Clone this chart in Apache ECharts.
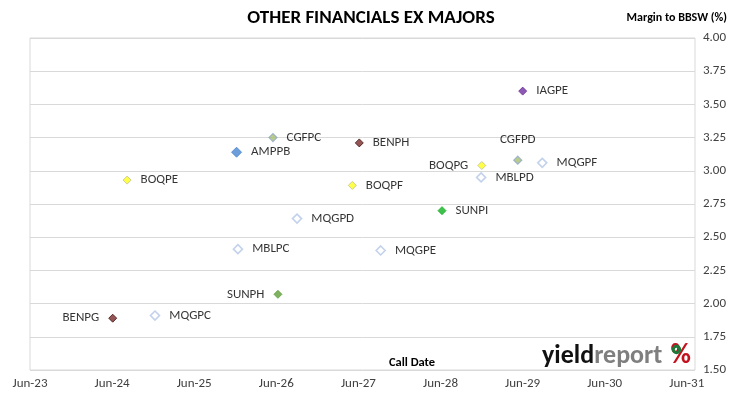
<!DOCTYPE html>
<html>
<head>
<meta charset="utf-8">
<script src="https://cdn.jsdelivr.net/npm/echarts@6/dist/echarts.min.js"></script>
<style>
  html, body { margin: 0; padding: 0; background: #fff; }
  #chart { width: 730px; height: 399px; }
</style>
</head>
<body>
<div id="chart"></div>
<script>
// securities, call dates and margins
const names = ['IAGPE', 'CGFPC', 'AMPPB', 'BENPH', 'CGFPD', 'MQGPF', 'BOQPG', 'MBLPD', 'BOQPE',
  'BOQPF', 'MQGPD', 'SUNPI', 'MBLPC', 'MQGPE', 'SUNPH', 'BENPG', 'MQGPC']
const callDates = ['2029-06-01', '2026-05-17', '2025-12-06', '2027-06-05', '2029-05-10', '2029-08-27',
  '2028-12-01', '2028-11-28', '2024-08-06', '2027-05-05', '2026-09-01', '2028-06-07', '2025-12-12',
  '2027-09-08', '2026-06-08', '2024-06-03', '2024-12-08']
const margins = [3.60, 3.25, 3.14, 3.21, 3.08, 3.06, 3.04, 2.95, 2.93, 2.89, 2.64, 2.70, 2.41, 2.40,
  2.07, 1.89, 1.91]
const xTickLabels = ['Jun-23', 'Jun-24', 'Jun-25', 'Jun-26', 'Jun-27', 'Jun-28', 'Jun-29', 'Jun-30', 'Jun-31']

const ORIGIN = Date.parse('2023-06-01')
const YEAR = 365.25 * 864e5
const FONT = 'Carlito, Lato, "Open Sans", sans-serif'

// marker look per issuer
const styles = {
  IAG: { color: '#7030A0', borderColor: '#6A2C98', borderWidth: 1, size: 8 },
  CGF: { color: '#A9BE72', borderColor: '#8EA8C6', borderWidth: 1.2, size: 8 },
  AMP: { color: '#4A86D0', borderColor: '#4A86D0', borderWidth: 1, size: 10 },
  BEN: { color: '#7A2A2A', borderColor: '#3E1212', borderWidth: 1, size: 8 },
  BOQ: { color: '#FFFF1A', borderColor: '#C2C28C', borderWidth: 1, size: 8 },
  SUN: { color: '#5E9E3A', borderColor: '#5E9E3A', borderWidth: 1, size: 8 },
  SUNPI: { color: '#10B020', borderColor: '#10B020', borderWidth: 1, size: 8 },
  MQG: { color: '#FFFFFF', borderColor: '#B4C7E7', borderWidth: 1.6, size: 9 },
  MBL: { color: '#FFFFFF', borderColor: '#B4C7E7', borderWidth: 1.6, size: 9 }
}
const labelSide = { BENPG: 'left', SUNPH: 'left', BOQPG: 'left', CGFPD: 'top' }

let points = names.map((n, i) => {
  let s = styles[n] || styles[n.slice(0, 3)]
  return {
    name: n,
    value: [(Date.parse(callDates[i]) - ORIGIN) / YEAR, margins[i]],
    symbolSize: s.size,
    itemStyle: { color: s.color, borderColor: s.borderColor, borderWidth: s.borderWidth },
    label: { position: labelSide[n] || 'right', distance: 9 }
  }
})

let myChart = echarts.init(document.getElementById('chart'))
myChart.setOption({
  animation: false,
  backgroundColor: '#fff',
  textStyle: { fontFamily: FONT },
  grid: {
    left: 30,
    right: 35,
    top: 38,
    bottom: 29,
    show: true,
    borderColor: '#D9D9D9',
    borderWidth: 1
  },
  xAxis: {
    type: 'value',
    min: 0,
    max: 8.1,
    interval: 1,
    axisLine: { show: false },
    axisTick: { show: false },
    splitLine: { show: false },
    axisLabel: {
      color: '#404040',
      fontSize: 13,
      margin: 7,
      showMaxLabel: false,
      formatter: v => (Number.isInteger(v) ? xTickLabels[v] : '')
    }
  },
  yAxis: {
    type: 'value',
    position: 'right',
    min: 1.5,
    max: 4,
    interval: 0.25,
    axisLine: { show: false },
    axisTick: { show: true, length: 5, lineStyle: { color: '#D9D9D9' } },
    splitLine: { lineStyle: { color: '#D9D9D9', width: 1 } },
    axisLabel: {
      color: '#404040',
      fontSize: 13,
      margin: 8,
      formatter: v => v.toFixed(2)
    }
  },
  graphic: [
    {
      type: 'text', x: 371, y: 18,
      style: { text: 'OTHER FINANCIALS EX MAJORS', font: 'bold 19px ' + FONT, fill: '#000', align: 'center', verticalAlign: 'middle' }
    },
    {
      type: 'text', x: 727, y: 18,
      style: { text: 'Margin to BBSW (%)', font: 'bold 12px ' + FONT, fill: '#000', align: 'right', verticalAlign: 'middle' }
    },
    {
      type: 'text', x: 412, y: 363,
      style: { text: 'Call Date', font: 'bold 12.5px ' + FONT, fill: '#000', align: 'center', verticalAlign: 'middle' }
    },
    // yieldreport logo
    {
      type: 'text', x: 542, y: 356, z: 10,
      style: {
        text: '{a|yield}{b|report}',
        verticalAlign: 'middle',
        rich: {
          a: { fontFamily: FONT, fontWeight: 'bold', fontSize: 26, fill: '#111' },
          b: { fontFamily: FONT, fontWeight: 'bold', fontSize: 26, fill: '#7F7F7F' }
        }
      }
    },
    {
      type: 'text', x: 691, y: 356, z: 10,
      style: { text: '%', fontFamily: FONT, fontWeight: 'bold', fontSize: 28, fill: '#C3121F', align: 'right', verticalAlign: 'middle' }
    },
    {
      type: 'circle', z: 11,
      shape: { cx: 676.5, cy: 349.5, r: 3.2 },
      style: { fill: 'none', stroke: '#1F7A3A', lineWidth: 3 }
    }
  ],
  series: [
    {
      type: 'scatter',
      symbol: 'diamond',
      data: points,
      label: {
        show: true,
        formatter: '{b}',
        color: '#000',
        fontSize: 13,
        fontFamily: FONT
      }
    }
  ]
})
</script>
</body>
</html>
